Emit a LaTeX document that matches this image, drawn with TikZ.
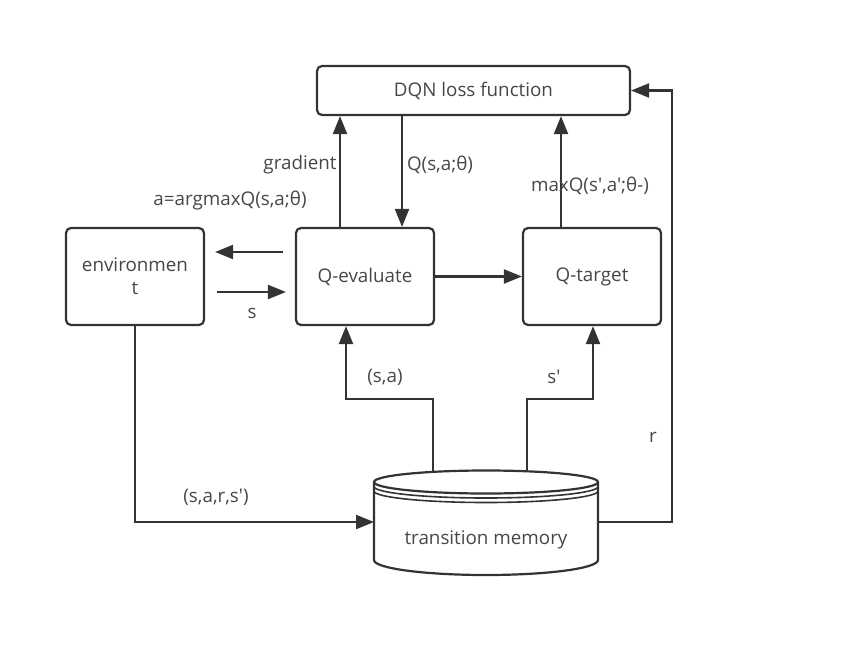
\documentclass[tikz,border=0pt]{standalone}
\usepackage{fontspec}
\setmainfont{Open Sans}[Ligatures=TeXOff]
\usetikzlibrary{arrows.meta,calc}
\definecolor{linegray}{HTML}{333333}
\definecolor{textgray}{HTML}{474747}

\begin{document}
\begin{tikzpicture}[x=1pt,y=-1pt,
    every node/.style={font=\fontsize{18.8}{23}\selectfont,text=textgray},
    box/.style={draw=linegray,line width=2.2pt,rounded corners=5pt,fill=white,align=center},
    arr/.style={draw=linegray,line width=2.2pt,-{Triangle[length=18pt,width=14pt]}},
    ln/.style={draw=linegray,line width=2.2pt}]
                \useasboundingbox (0,0) rectangle (850,661);

                \node[box,minimum width=313pt,minimum height=49pt] (loss) at (473.5,90.5) {DQN loss function};
                \node[box,minimum width=138pt,minimum height=97pt] (env) at (135,276.5) {environmen\\t};
                \node[box,minimum width=138pt,minimum height=97pt] (qe) at (365,276.5) {Q-evaluate};
                \node[box,minimum width=138pt,minimum height=97pt] (qt) at (592,276.5) {Q-target};

                % transition memory drawn as a cylinder
                \node[minimum width=224pt,minimum height=105pt,outer sep=0pt] (mem) at (486,522) {};
                \draw[ln,fill=white] (374,482) -- (374,560) arc[start angle=180,end angle=0,x radius=112,y radius=15] -- (598,482);
                \draw[ln,fill=white] (486,482) ellipse[x radius=112,y radius=11.5];
                \foreach \d in {4.5,9} \draw[ln,line width=1.6pt] (374,482+\d) arc[start angle=180,end angle=0,x radius=112,y radius=11.5];
                \node (memtxt) at (486,540) {transition memory};
                \coordinate (memL) at (433,472);
                \coordinate (memR) at (527,472);

                \draw[arr] ([xshift=-25pt]qe.north) -- ([xshift=-25pt]qe.north |- loss.south);
                \draw[arr] ([xshift=37pt]qe.north |- loss.south) -- ([xshift=37pt]qe.north);
                \draw[arr] ([xshift=-31pt]qt.north) -- ([xshift=-31pt]qt.north |- loss.south);
                \draw[arr] ([shift={(-12,-24.5)}]qe.west) -- ([shift={(10,-24.5)}]env.east);
                \draw[arr] ([shift={(12,15.5)}]env.east) -- ([shift={(-9,15.5)}]qe.west);
                \draw[arr] (qe.east) -- (qt.west);
                \draw[arr] (memL) |- (399.5,399) -| ([xshift=-19pt]qe.south);
                \draw[arr] (memR) |- (560,399) -| ([xshift=1pt]qt.south);
                \draw[arr] (env.south) |- (mem.west);
                \draw[arr] (mem.east) -| ([xshift=41pt]loss.east) -- (loss.east);

                \node (lgrad) at (300,165) {gradient};
                \node (lq) at (440,165) {Q(s,a;θ)};
                \node (lmax) at (590,186) {maxQ(s',a';θ-)};
                \node (larg) at (230,201) {a=argmaxQ(s,a;θ)};
                \node (ls) at (252,313) {s};
                \node (lsa) at (385,377) {(s,a)};
                \node (lsp) at (554,377) {s'};
                \node (lsars) at (216,497) {(s,a,r,s')};
                \node (lr) at (653,437) {r};
\end{tikzpicture}
\end{document}
